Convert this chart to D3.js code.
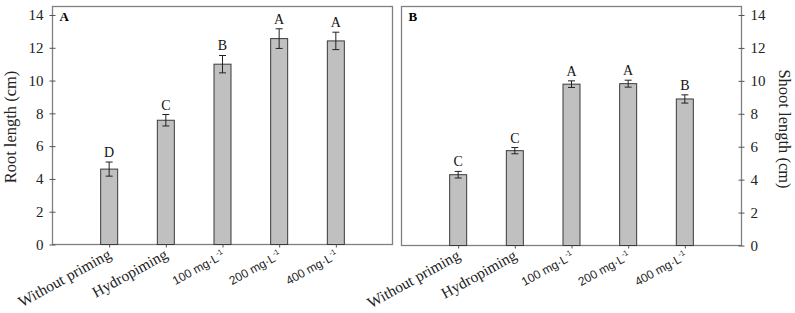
<!DOCTYPE html>
<html><head><meta charset="utf-8">
<script src="https://cdn.jsdelivr.net/npm/d3@7"></script>
<style>body{margin:0;background:#fff}svg{display:block}</style>
</head><body>
<svg id="c" width="795" height="313"></svg>
<script>
const categories = ["Without priming","Hydropiming","100 mg·L-1","200 mg·L-1","400 mg·L-1"];
const rootValues = [4.6, 7.58, 11.0, 12.56, 12.42];
const rootErrors = [0.43, 0.35, 0.53, 0.6, 0.53];
const rootLetters = ["D","C","B","A","A"];
const shootValues = [4.3, 5.76, 9.8, 9.83, 8.9];
const shootErrors = [0.2, 0.19, 0.2, 0.21, 0.25];
const shootLetters = ["C","C","A","A","B"];
const yTicks = [0,2,4,6,8,10,12,14];

const svg = d3.select("#c");
const serif = "'Liberation Serif','DejaVu Serif',serif";
const sans = "'Liberation Sans',Arial,sans-serif";

function panel(opt){
  const g = svg.append("g");
  const x = d3.scalePoint().domain(categories).range([opt.x0, opt.x1]).padding(1);
  const y = d3.scaleLinear().domain([0, 14]).range([opt.yb, opt.y14]);
  const yTop = opt.top;
  g.append("rect").attr("x", opt.x0).attr("y", yTop).attr("width", opt.x1-opt.x0).attr("height", opt.yb-yTop)
    .attr("fill","none").attr("stroke","#808080").attr("stroke-width",1.3);
  const bw = 17;
  g.selectAll(".bar").data(opt.values).enter().append("rect")
    .attr("x",(d,i)=>x(categories[i])-bw/2).attr("y",d=>y(d))
    .attr("width",bw).attr("height",d=>opt.yb-y(d))
    .attr("fill","#c0c0c0").attr("stroke","#3a3a3a").attr("stroke-width",1);
  opt.values.forEach((v,i)=>{
    const cx = x(categories[i]), e = opt.errors[i];
    g.append("line").attr("x1",cx).attr("x2",cx).attr("y1",y(v+e)).attr("y2",y(v-e)).attr("stroke","#222").attr("stroke-width",1);
    [v+e, v-e].forEach(t=>g.append("line").attr("x1",cx-3.5).attr("x2",cx+3.5).attr("y1",y(t)).attr("y2",y(t)).attr("stroke","#222").attr("stroke-width",1));
    g.append("text").attr("x",cx).attr("y",y(v+e)-5).attr("text-anchor","middle")
      .attr("font-family",serif).attr("font-size",14).attr("fill","#111").text(opt.letters[i]);
  });
  const axis = (opt.side==="left"? d3.axisLeft(y) : d3.axisRight(y)).tickValues(yTicks).tickSize(3).tickPadding(6).tickFormat(d3.format("d"));
  const ax = g.append("g").attr("transform",`translate(${opt.side==="left"?opt.x0:opt.x1},0)`).call(axis);
  ax.select(".domain").remove();
  ax.selectAll(".tick line").attr("stroke","#555").attr("x1", opt.side==="left"?3:-3).attr("x2", opt.side==="left"?-3:3);
  ax.selectAll(".tick text").attr("font-family",serif).attr("font-size",15).attr("fill","#222");
  const xa = g.append("g").attr("transform",`translate(0,${opt.yb})`).call(d3.axisBottom(x).tickSize(3).tickFormat(""));
  xa.select(".domain").remove();
  xa.selectAll(".tick line").attr("stroke","#555");
  categories.forEach((c,i)=>{
    const cx = x(c);
    const t = g.append("text").attr("transform",`translate(${cx+3},${opt.yb+13}) rotate(-29)`).attr("text-anchor","end").attr("fill","#222");
    if (c.indexOf("mg")>=0){
      const base = c.replace("-1","");
      t.attr("font-family",sans).attr("font-size",12);
      t.append("tspan").text(base);
      t.append("tspan").attr("dy",-5).attr("font-size",7.5).text("-1");
    } else {
      t.attr("font-family",serif).attr("font-size",15.5).text(c);
    }
  });
  g.append("text").attr("x",opt.x0+7).attr("y",yTop+14).attr("font-family",serif).attr("font-weight","bold").attr("font-size",13).text(opt.tag);
  const tx = opt.side==="left"? 16 : 779;
  g.append("text").attr("transform",`translate(${tx},${opt.titleY}) rotate(${opt.side==="left"?-90:90})`)
    .attr("text-anchor","middle").attr("font-family",serif).attr("font-size",16.5).attr("fill","#222").text(opt.title);
}

panel({x0:52.5, x1:392.5, top:6.5, yb:244.5, y14:15, values:rootValues, errors:rootErrors, letters:rootLetters, side:"left", tag:"A", title:"Root length (cm)", titleY:127});
panel({x0:401.5, x1:741.5, top:6.5, yb:245.5, y14:15, values:shootValues, errors:shootErrors, letters:shootLetters, side:"right", tag:"B", title:"Shoot length (cm)", titleY:129});
</script>
</body></html>
